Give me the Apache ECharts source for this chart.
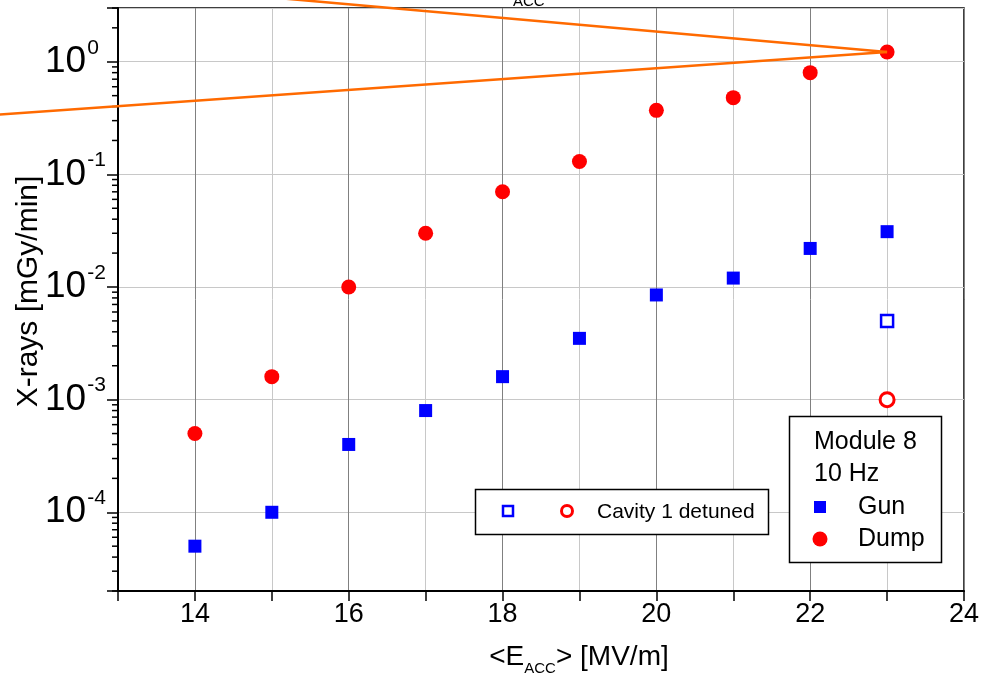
<!DOCTYPE html>
<html>
<head>
<meta charset="utf-8">
<script src="https://cdn.jsdelivr.net/npm/echarts@6/dist/echarts.min.js"></script>
<style>html,body{margin:0;padding:0;background:#fff;}#c{width:992px;height:675px;}</style>
</head>
<body>
<div id="c"></div>
<script>
// ---- data ----
const energies = [14, 15, 16, 17, 18, 19, 20, 21, 22, 23];
const gunRate = [5e-5, 1e-4, 4e-4, 8e-4, 1.6e-3, 3.5e-3, 8.5e-3, 0.012, 0.022, 0.031];
const dumpRate = [5e-4, 1.6e-3, 0.01, 0.03, 0.07, 0.13, 0.37, 0.48, 0.8, 1.22];
const detunedE = [23];
const gunDetunedRate = [5e-3];
const dumpDetunedRate = [1e-3];
const guideUpperX = [15, 23];
const guideUpperY = [3.72, 1.22];
const guideLowerX = [11.4, 23];
const guideLowerY = [0.338, 1.22];
const xMin = 13, xMax = 24;
const yMin = 2e-5, yMax = 3;
const yMinorTicks = [
  2e-5, 3e-5, 4e-5, 5e-5, 6e-5, 7e-5, 8e-5, 9e-5,
  2e-4, 3e-4, 4e-4, 5e-4, 6e-4, 7e-4, 8e-4, 9e-4,
  2e-3, 3e-3, 4e-3, 5e-3, 6e-3, 7e-3, 8e-3, 9e-3,
  2e-2, 3e-2, 4e-2, 5e-2, 6e-2, 7e-2, 8e-2, 9e-2,
  0.2, 0.3, 0.4, 0.5, 0.6, 0.7, 0.8, 0.9,
  2, 3
];
const xTitle = ['<E', 'ACC', '> [MV/m]'];
const yTitle = 'X-rays [mGy/min]';
const legendDetuned = 'Cavity 1 detuned';
const legendHeader = ['Module 8', '10 Hz'];
const legendNames = ['Gun', 'Dump'];

// ---- styling ----
const FONT = '"Liberation Sans", Arial, Helvetica, sans-serif';
const BLUE = '#0000ff', RED = '#ff0000', ORANGE = '#ff6a00';

const zip = (xs, ys) => xs.map((x, i) => [x, ys[i]]);

const chart = echarts.init(document.getElementById('c'), null, {renderer: 'canvas'});

const option = {
  animation: false,
  backgroundColor: '#fff',
  grid: {left: 118, right: 28, top: 8, bottom: 84, show: true, borderColor: '#000', borderWidth: 1.5,
    backgroundColor: 'transparent', containLabel: false, outerBoundsMode: 'none'},
  xAxis: [{
    type: 'value', min: xMin, max: xMax, interval: 1, position: 'bottom',
    axisLine: {show: true, lineStyle: {color: '#000', width: 2}},
    axisTick: {show: true, length: 10, lineStyle: {color: '#000', width: 1.5},
      interval: (i, v) => Number(v) % 2 === 0},
    axisLabel: {show: true, margin: 10, fontSize: 27, color: '#000', fontFamily: FONT,
      formatter: v => (v % 2 === 0 && v > xMin) ? String(v) : ''},
    splitLine: {show: true, lineStyle: {color: ['#c8c8c8', '#808080'], width: 1}},
    name: '{m|' + xTitle[0] + '}{s|' + xTitle[1] + '}{m|' + xTitle[2] + '}',
    nameLocation: 'middle', nameGap: 48,
    nameTextStyle: {padding: [0, 0, 0, 76], rich: {
      m: {fontSize: 28, fontFamily: FONT, color: '#000'},
      s: {fontSize: 15, fontFamily: FONT, color: '#000', padding: [22, 0, 0, 0]}
    }}
  }, {
    type: 'value', min: xMin, max: xMax, interval: 1, position: 'bottom',
    axisLine: {show: false},
    axisTick: {show: true, length: 5, lineStyle: {color: '#000', width: 1.5},
      interval: (i, v) => Number(v) % 2 !== 0},
    axisLabel: {show: false},
    splitLine: {show: false}
  }],
  yAxis: [{
    type: 'log', logBase: 10, min: yMin, max: yMax,
    axisLine: {show: true, lineStyle: {color: '#000', width: 2}},
    axisTick: {show: true, length: 11, lineStyle: {color: '#000', width: 1.5}},
    axisLabel: {
      show: true, margin: 73, align: 'left', color: '#000',
      formatter: v => {
        const l = Math.log10(v);
        const e = Math.round(l);
        if (Math.abs(l - e) > 1e-6) return '';
        return '{b|10}{s|' + e + '}';
      },
      rich: {
        b: {fontSize: 37, fontFamily: FONT, color: '#000'},
        s: {fontSize: 21, fontFamily: FONT, color: '#000', padding: [0, 0, 28, 1]}
      }
    },
    splitLine: {show: true, lineStyle: {color: '#c8c8c8', width: 1}},
    name: yTitle, nameLocation: 'middle', nameGap: 74, nameRotate: 90, nameMoveOverlap: false,
    nameTextStyle: {fontSize: 30, fontFamily: FONT, color: '#000', padding: [0, 0, 0, 16]}
  }],
  series: [
    {type: 'scatter', name: 'Gun', data: zip(energies, gunRate), symbol: 'rect', symbolSize: 13,
      itemStyle: {color: BLUE, opacity: 1}, z: 4},
    {type: 'scatter', name: 'Dump', data: zip(energies, dumpRate), symbol: 'circle', symbolSize: 15,
      itemStyle: {color: RED, opacity: 1}, z: 4},
    {type: 'scatter', name: 'Gun detuned', data: zip(detunedE, gunDetunedRate), symbol: 'rect', symbolSize: 12,
      itemStyle: {color: '#fff', borderColor: BLUE, borderWidth: 2.5, opacity: 1}, z: 4},
    {type: 'scatter', name: 'Dump detuned', data: zip(detunedE, dumpDetunedRate), symbol: 'circle', symbolSize: 14,
      itemStyle: {color: '#fff', borderColor: RED, borderWidth: 3, opacity: 1}, z: 4}
  ]
};
chart.setOption(option);

// ---- elements placed through the chart's own scales ----
const toPx = (x, y) => chart.convertToPixel({xAxisIndex: 0, yAxisIndex: 0}, [x, y]);
const g = [];
yMinorTicks.forEach(v => {
  const p = toPx(xMin, v);
  g.push({type: 'line', shape: {x1: p[0] - 6, y1: p[1], x2: p[0], y2: p[1]},
    style: {stroke: '#000', lineWidth: 1.5}, z: 20, silent: true});
});
[[guideUpperX, guideUpperY], [guideLowerX, guideLowerY]].forEach(([xs, ys]) => {
  g.push({type: 'polyline', shape: {points: xs.map((x, i) => toPx(x, ys[i]))},
    style: {stroke: ORANGE, lineWidth: 2.5, fill: null}, z: 30, silent: true});
});
g.push(
  {type: 'text', x: 513, y: -6, style: {text: 'ACC', fontSize: 15, fontFamily: FONT, fill: '#000'}, z: 30},
  // legend box 1
  {type: 'rect', shape: {x: 475.5, y: 489.5, width: 293, height: 45}, style: {fill: '#fff', stroke: '#000', lineWidth: 1.5}, z: 40},
  {type: 'rect', shape: {x: 503, y: 506, width: 10, height: 10}, style: {fill: '#fff', stroke: BLUE, lineWidth: 2.5}, z: 41},
  {type: 'circle', shape: {cx: 567, cy: 511, r: 5.5}, style: {fill: '#fff', stroke: RED, lineWidth: 3}, z: 41},
  {type: 'text', x: 597, y: 512, style: {text: legendDetuned, fontSize: 21, fontFamily: FONT, fill: '#000', verticalAlign: 'middle', align: 'left'}, z: 41},
  // legend box 2
  {type: 'rect', shape: {x: 789.5, y: 416.5, width: 152, height: 146}, style: {fill: '#fff', stroke: '#000', lineWidth: 1.5}, z: 40},
  {type: 'text', x: 814, y: 442, style: {text: legendHeader[0], fontSize: 25, fontFamily: FONT, fill: '#000', verticalAlign: 'middle'}, z: 41},
  {type: 'text', x: 814, y: 474, style: {text: legendHeader[1], fontSize: 25, fontFamily: FONT, fill: '#000', verticalAlign: 'middle'}, z: 41},
  {type: 'rect', shape: {x: 814, y: 501, width: 12, height: 12}, style: {fill: BLUE}, z: 41},
  {type: 'text', x: 858, y: 507, style: {text: legendNames[0], fontSize: 25, fontFamily: FONT, fill: '#000', verticalAlign: 'middle'}, z: 41},
  {type: 'circle', shape: {cx: 820, cy: 539, r: 7.5}, style: {fill: RED}, z: 41},
  {type: 'text', x: 858, y: 539, style: {text: legendNames[1], fontSize: 25, fontFamily: FONT, fill: '#000', verticalAlign: 'middle'}, z: 41}
);
chart.setOption({graphic: {elements: g}});
</script>
</body>
</html>
